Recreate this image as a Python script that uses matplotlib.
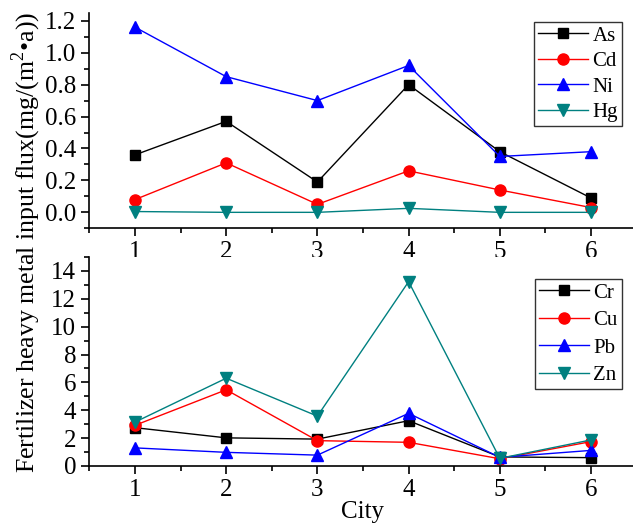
import matplotlib
matplotlib.use("Agg")
import matplotlib.pyplot as plt
from matplotlib.ticker import MultipleLocator

plt.rcParams["font.family"] = ["Liberation Serif", "DejaVu Serif"]
plt.rcParams["mathtext.fontset"] = "custom"
plt.rcParams["mathtext.rm"] = "Liberation Serif"

cities = [1, 2, 3, 4, 5, 6]

# upper panel
as_vals = [0.36, 0.57, 0.19, 0.80, 0.38, 0.09]
cd_vals = [0.08, 0.31, 0.05, 0.26, 0.14, 0.03]
ni_vals = [1.16, 0.85, 0.70, 0.92, 0.35, 0.38]
hg_vals = [0.005, 0.0, 0.0, 0.025, 0.0, 0.0]

# lower panel
cr_vals = [2.75, 2.02, 1.93, 3.25, 0.65, 0.60]
cu_vals = [2.92, 5.47, 1.82, 1.70, 0.52, 1.75]
pb_vals = [1.30, 0.98, 0.78, 3.78, 0.62, 1.12]
zn_vals = [3.15, 6.30, 3.58, 13.23, 0.55, 1.87]

styles = [("k", "s", 7), ("#ff0000", "o", 8), ("#0000ff", "^", 8), ("#008080", "v", 8)]

W, H = 633, 523
fig = plt.figure(figsize=(W / 100, H / 100), dpi=100)
ax1 = fig.add_axes([89.4 / W, 1 - 228.3 / H, 547.2 / W, 215.5 / H])
ax2 = fig.add_axes([89.4 / W, 1 - 466 / H, 547.2 / W, 209 / H])


def draw(ax, series, names, leg_top, spacing):
    for vals, (c, m, ms), name in zip(series, styles, names):
        ax.plot(cities, vals, color=c, marker=m, markersize=ms, lw=1, label=name)
    for s in ("top", "right"):
        ax.spines[s].set_visible(False)
    for s in ("left", "bottom"):
        ax.spines[s].set_linewidth(1.2)
    ax.set_xlim(0.5, 6.5)
    ax.xaxis.set_major_locator(MultipleLocator(1))
    ax.xaxis.set_minor_locator(MultipleLocator(0.5))
    ax.tick_params(which="both", direction="out", width=1.2, labelsize=18)
    ax.tick_params(which="major", length=6)
    ax.tick_params(which="minor", length=3.5)
    leg = ax.legend(loc="upper right", bbox_to_anchor=(622 / W, 1 - leg_top / H),
                    bbox_transform=fig.transFigure, fontsize=15,
                    handlelength=2.4, fancybox=False, framealpha=1,
                    edgecolor="#333333", borderpad=0.2, labelspacing=spacing,
                    handletextpad=0.2, borderaxespad=0)
    leg.get_frame().set_linewidth(1.0)


draw(ax1, [as_vals, cd_vals, ni_vals, hg_vals], ["As", "Cd", "Ni", "Hg"], 22, 0.28)
ax1.set_ylim(-0.1, 1.25)
ax1.yaxis.set_minor_locator(MultipleLocator(0.1))
ax1.set_yticks([0, 0.2, 0.4, 0.6, 0.8, 1.0, 1.2])
ax1.set_yticklabels(["0.0", "0.2", "0.4", "0.6", "0.8", "1.0", "1.2"])

draw(ax2, [cr_vals, cu_vals, pb_vals, zn_vals], ["Cr", "Cu", "Pb", "Zn"], 279, 0.38)
ax2.set_ylim(0, 15)
ax2.yaxis.set_minor_locator(MultipleLocator(1))
ax2.set_yticks(range(0, 15, 2))
ax2.set_xlabel("City", fontsize=18, labelpad=0)

fig.text(26 / W, 1 - 242.5 / H, "Fertilizer heavy metal input flux(mg/(m$^2$•a))",
         rotation=90, ha="center", va="center", fontsize=18.6)

fig.savefig("out.png", dpi=100)
